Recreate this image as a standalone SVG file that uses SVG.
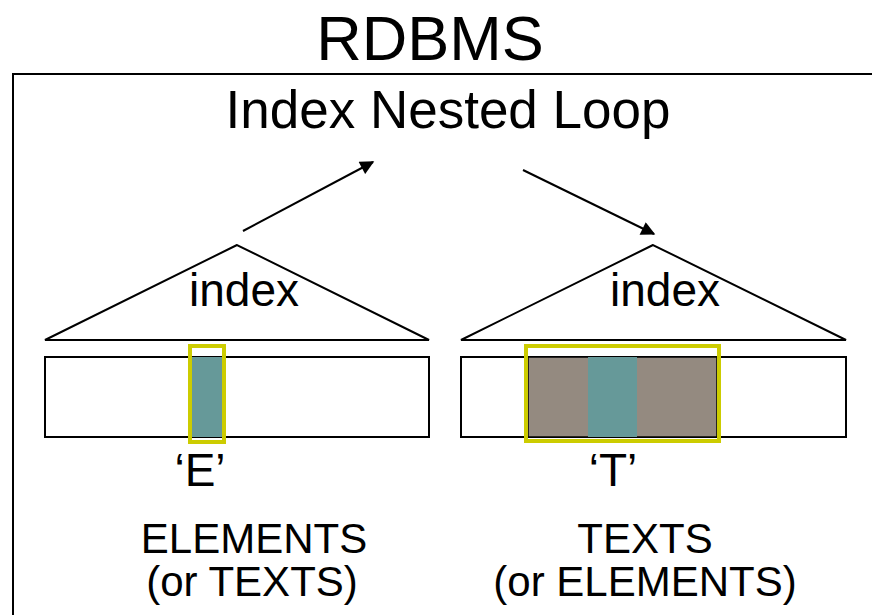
<svg xmlns="http://www.w3.org/2000/svg" width="872" height="615" viewBox="0 0 872 615">
<defs>
<style>
text{font-family:"Liberation Sans",Arial,sans-serif;fill:#000;text-anchor:middle}
.ln{stroke:#000;stroke-width:2;fill:none}
.box{fill:#fff;stroke:#000;stroke-width:2}
.sel{fill:none;stroke:#CCCC00;stroke-width:4}
.teal{fill:#669999}
.brown{fill:#948A80}
</style>
<marker id="ah" viewBox="0 0 10 10" refX="9" refY="5" markerWidth="8.5" markerHeight="7" markerUnits="strokeWidth" orient="auto">
<path d="M0,0 L10,5 L0,10 z" fill="#000"/>
</marker>
</defs>
<rect width="872" height="615" fill="#fff"/>
<text x="430" y="60" font-size="63">RDBMS</text>
<g id="frame">
<rect x="13" y="74" width="880" height="560" class="ln"/>
<text x="448" y="128" font-size="53">Index Nested Loop</text>
</g>
<g id="left-index">
<polygon points="237,245 45,340 429,340" class="ln"/>
<text x="244" y="306" font-size="46">index</text>
</g>
<g id="left-table">
<rect x="45" y="357" width="384" height="80" class="box"/>
<rect x="192" y="357" width="31" height="80" class="teal"/>
<rect x="190" y="346" width="34" height="96" class="sel"/>
<text x="200" y="486" font-size="46">‘E’</text>
<text x="254" y="553" font-size="42">ELEMENTS</text>
<text x="252" y="596" font-size="42">(or TEXTS)</text>
</g>
<g id="right-index">
<polygon points="653,245 461,340 846,340" class="ln"/>
<text x="665" y="306" font-size="46">index</text>
</g>
<g id="right-table">
<rect x="461" y="357" width="385" height="80" class="box"/>
<rect x="528" y="357" width="189" height="80" class="brown" stroke="#000" stroke-width="1.5"/>
<rect x="588" y="357" width="49" height="80" class="teal"/>
<rect x="526" y="346" width="193" height="95" class="sel"/>
<text x="613" y="486" font-size="46">‘T’</text>
<text x="645" y="553" font-size="42">TEXTS</text>
<text x="645" y="596" font-size="42">(or ELEMENTS)</text>
</g>
<g id="connectors">
<line x1="243" y1="231" x2="373" y2="162" class="ln" marker-end="url(#ah)"/>
<line x1="523" y1="170" x2="654" y2="234" class="ln" marker-end="url(#ah)"/>
</g>
</svg>
